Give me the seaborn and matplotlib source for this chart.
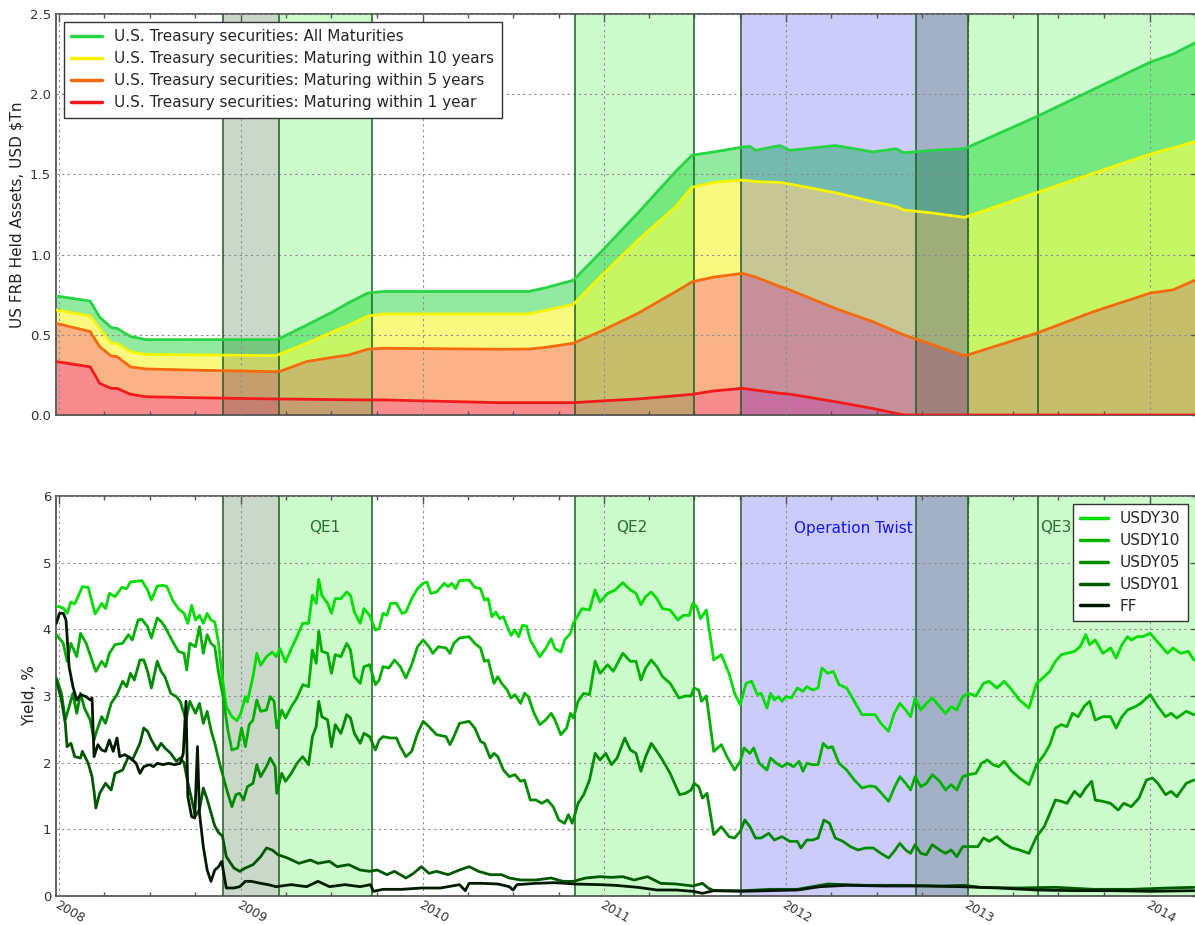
import numpy as np
import pandas as pd
import matplotlib
matplotlib.use("Agg")
import matplotlib.pyplot as plt
import matplotlib.dates as mdates
import seaborn as sns

# ---------------- data (decimal years, values) ----------------
TOP_YEARS = [2007.985, 2008.171, 2008.223, 2008.286, 2008.318, 2008.392, 2008.476, 2008.728,
             2009.192, 2009.213, 2009.360, 2009.507, 2009.592, 2009.697, 2009.781, 2010.413,
             2010.581, 2010.665, 2010.829, 2010.976, 2011.185, 2011.394, 2011.483, 2011.602,
             2011.759, 2011.801, 2011.832, 2011.968, 2012.020, 2012.270, 2012.480, 2012.604,
             2012.646, 2012.800, 2012.980, 2013.377, 2013.690, 2014.003, 2014.128, 2014.249]
ALL_MAT = [0.742, 0.71, 0.61, 0.545, 0.54, 0.49, 0.47, 0.47, 0.47, 0.478, 0.56, 0.645, 0.70, 0.76,
           0.77, 0.77, 0.77, 0.79, 0.84, 1.01, 1.26, 1.52, 1.62, 1.64, 1.67, 1.675, 1.65, 1.68,
           1.65, 1.68, 1.64, 1.66, 1.635, 1.65, 1.66, 1.86, 2.03, 2.20, 2.25, 2.32]
MAT_10Y = [0.655, 0.617, 0.54, 0.447, 0.447, 0.395, 0.378, 0.375, 0.37, 0.38, 0.447, 0.52, 0.56,
           0.617, 0.63, 0.63, 0.63, 0.65, 0.69, 0.86, 1.09, 1.30, 1.42, 1.45, 1.465, 1.46, 1.455,
           1.45, 1.44, 1.386, 1.33, 1.30, 1.278, 1.26, 1.232, 1.386, 1.507, 1.627, 1.665, 1.704]
MAT_5Y = [0.571, 0.52, 0.426, 0.368, 0.364, 0.30, 0.287, 0.28, 0.27, 0.272, 0.333, 0.36, 0.374,
          0.41, 0.416, 0.41, 0.411, 0.42, 0.447, 0.52, 0.634, 0.77, 0.83, 0.86, 0.883, 0.87, 0.86,
          0.80, 0.78, 0.665, 0.58, 0.52, 0.50, 0.44, 0.368, 0.51, 0.644, 0.76, 0.78, 0.84]
MAT_1Y = [0.333, 0.30, 0.197, 0.166, 0.166, 0.129, 0.114, 0.108, 0.10, 0.10, 0.098, 0.096, 0.095,
          0.094, 0.094, 0.077, 0.077, 0.077, 0.077, 0.087, 0.10, 0.12, 0.129, 0.15, 0.166, 0.16,
          0.155, 0.135, 0.13, 0.083, 0.04, 0.01, 0.0, 0.0, 0.0, 0.0, 0.0, 0.0, 0.0, 0.0]
TOP_NAMES = ["U.S. Treasury securities: All Maturities",
             "U.S. Treasury securities: Maturing within 10 years",
             "U.S. Treasury securities: Maturing within 5 years",
             "U.S. Treasury securities: Maturing within 1 year"]

USDY30 = [(2007.985,4.35),(2008.023,4.32),(2008.044,4.24),(2008.065,4.41),(2008.086,4.38),(2008.128,4.64),
 (2008.160,4.63),(2008.198,4.23),(2008.234,4.39),(2008.255,4.31),(2008.276,4.54),(2008.307,4.49),(2008.345,4.63),
 (2008.371,4.61),(2008.392,4.71),(2008.455,4.73),(2008.486,4.59),(2008.507,4.44),(2008.539,4.65),(2008.571,4.66),
 (2008.592,4.64),(2008.623,4.44),(2008.655,4.31),(2008.686,4.24),(2008.707,4.09),(2008.728,4.36),(2008.749,4.14),
 (2008.771,4.21),(2008.792,4.09),(2008.813,4.24),(2008.834,4.14),(2008.855,4.11),(2008.876,3.79),(2008.893,3.34),
 (2008.918,2.84),(2008.949,2.69),(2008.977,2.63),(2008.998,2.74),(2009.023,2.99),(2009.034,2.91),(2009.065,3.29),
 (2009.086,3.64),(2009.107,3.46),(2009.139,3.59),(2009.171,3.66),(2009.192,3.59),(2009.213,3.71),(2009.244,3.51),
 (2009.276,3.71),(2009.307,3.89),(2009.339,4.09),(2009.371,4.09),(2009.392,4.51),(2009.413,4.39),(2009.427,4.75),
 (2009.444,4.51),(2009.476,4.39),(2009.497,4.24),(2009.518,4.46),(2009.549,4.46),(2009.581,4.56),(2009.602,4.51),
 (2009.623,4.26),(2009.655,4.09),(2009.676,4.31),(2009.707,4.21),(2009.739,3.99),(2009.760,4.01),(2009.781,4.24),
 (2009.802,4.21),(2009.823,4.39),(2009.855,4.39),(2009.886,4.24),(2009.907,4.26),(2009.939,4.46),(2009.971,4.61),
 (2010.002,4.69),(2010.023,4.71),(2010.044,4.54),(2010.076,4.56),(2010.118,4.69),(2010.139,4.64),(2010.160,4.69),
 (2010.181,4.61),(2010.202,4.73),(2010.255,4.74),(2010.286,4.63),(2010.318,4.61),(2010.339,4.44),(2010.360,4.46),
 (2010.381,4.19),(2010.402,4.26),(2010.423,4.16),(2010.444,4.19),(2010.465,4.04),(2010.486,3.91),(2010.507,3.99),
 (2010.528,3.89),(2010.549,4.06),(2010.571,4.05),(2010.592,3.84),(2010.613,3.74),(2010.644,3.59),(2010.676,3.71),
 (2010.707,3.86),(2010.728,3.71),(2010.760,3.66),(2010.781,3.84),(2010.813,3.94),(2010.829,4.09),(2010.855,4.21),
 (2010.876,4.31),(2010.918,4.29),(2010.949,4.59),(2010.976,4.41),(2011.018,4.54),(2011.060,4.59),(2011.101,4.70),
 (2011.143,4.59),(2011.174,4.54),(2011.201,4.37),(2011.227,4.49),(2011.258,4.56),(2011.289,4.46),(2011.320,4.31),
 (2011.362,4.29),(2011.404,4.14),(2011.435,4.21),(2011.467,4.21),(2011.487,4.39),(2011.508,4.34),(2011.529,4.16),
 (2011.561,4.29),(2011.602,3.54),(2011.644,3.62),(2011.686,3.34),(2011.717,3.04),(2011.748,2.87),(2011.780,3.19),
 (2011.811,3.22),(2011.842,3.02),(2011.863,3.04),(2011.895,2.82),(2011.915,3.04),(2011.936,2.94),(2011.957,2.99),
 (2011.978,2.92),(2011.999,2.99),(2012.030,2.97),(2012.062,3.12),(2012.093,3.07),(2012.114,3.14),(2012.145,3.09),
 (2012.176,3.12),(2012.197,3.42),(2012.229,3.34),(2012.260,3.37),(2012.291,3.17),(2012.333,3.12),(2012.375,2.92),
 (2012.417,2.72),(2012.458,2.72),(2012.490,2.72),(2012.521,2.59),(2012.563,2.47),(2012.594,2.74),(2012.625,2.89),
 (2012.657,2.79),(2012.684,2.69),(2012.709,2.97),(2012.740,2.79),(2012.771,2.89),(2012.803,2.97),(2012.844,2.84),
 (2012.876,2.74),(2012.907,2.84),(2012.938,2.79),(2012.970,2.99),(2013.001,3.04),(2013.043,3.00),(2013.085,3.19),
 (2013.116,3.22),(2013.158,3.12),(2013.199,3.22),(2013.241,3.09),(2013.283,2.94),(2013.335,2.82),(2013.377,3.19),
 (2013.419,3.29),(2013.450,3.37),(2013.481,3.52),(2013.513,3.62),(2013.544,3.64),(2013.586,3.67),(2013.617,3.74),
 (2013.648,3.92),(2013.669,3.77),(2013.700,3.84),(2013.742,3.64),(2013.784,3.72),(2013.815,3.57),(2013.847,3.77),
 (2013.878,3.89),(2013.899,3.84),(2013.930,3.89),(2013.961,3.89),(2014.003,3.94),(2014.034,3.84),(2014.066,3.74),
 (2014.097,3.64),(2014.128,3.72),(2014.170,3.64),(2014.212,3.67),(2014.243,3.54)]

USDY10 = [(2007.985,3.92),(2008.023,3.79),(2008.044,3.52),(2008.065,3.79),(2008.097,3.59),(2008.118,3.94),
 (2008.149,3.79),(2008.192,3.44),(2008.202,3.37),(2008.234,3.52),(2008.255,3.44),(2008.276,3.64),(2008.307,3.77),
 (2008.349,3.79),(2008.381,3.92),(2008.402,3.84),(2008.434,4.14),(2008.455,4.15),(2008.486,4.04),(2008.507,3.87),
 (2008.539,4.17),(2008.560,4.12),(2008.581,4.04),(2008.623,3.82),(2008.655,3.67),(2008.686,3.64),(2008.701,3.39),
 (2008.718,3.79),(2008.749,3.74),(2008.771,4.04),(2008.792,3.64),(2008.813,3.92),(2008.834,3.79),(2008.855,3.74),
 (2008.876,3.34),(2008.897,3.04),(2008.928,2.47),(2008.949,2.19),(2008.981,2.22),(2009.002,2.52),(2009.023,2.24),
 (2009.044,2.57),(2009.065,2.64),(2009.086,2.94),(2009.107,2.77),(2009.139,2.79),(2009.160,2.99),(2009.181,2.92),
 (2009.196,2.52),(2009.223,2.79),(2009.244,2.67),(2009.276,2.84),(2009.307,2.97),(2009.339,3.17),(2009.371,3.14),
 (2009.392,3.69),(2009.413,3.49),(2009.427,3.97),(2009.444,3.67),(2009.476,3.64),(2009.497,3.34),(2009.518,3.62),
 (2009.549,3.59),(2009.581,3.79),(2009.602,3.69),(2009.623,3.29),(2009.655,3.19),(2009.676,3.44),(2009.707,3.47),
 (2009.739,3.17),(2009.760,3.24),(2009.781,3.44),(2009.813,3.42),(2009.844,3.54),(2009.876,3.44),(2009.907,3.27),
 (2009.939,3.47),(2009.971,3.74),(2010.002,3.84),(2010.034,3.74),(2010.055,3.64),(2010.086,3.74),(2010.128,3.72),
 (2010.149,3.64),(2010.171,3.79),(2010.202,3.87),(2010.255,3.89),(2010.286,3.79),(2010.318,3.72),(2010.339,3.52),
 (2010.360,3.54),(2010.392,3.19),(2010.413,3.29),(2010.434,3.19),(2010.465,3.09),(2010.486,2.97),(2010.507,3.02),
 (2010.539,2.89),(2010.560,3.04),(2010.581,2.99),(2010.613,2.74),(2010.644,2.57),(2010.676,2.64),(2010.707,2.74),
 (2010.728,2.64),(2010.760,2.42),(2010.792,2.52),(2010.813,2.74),(2010.829,2.67),(2010.855,2.92),(2010.886,3.04),
 (2010.918,3.02),(2010.949,3.52),(2010.976,3.34),(2011.018,3.47),(2011.049,3.37),(2011.101,3.64),(2011.143,3.52),
 (2011.174,3.52),(2011.201,3.24),(2011.227,3.42),(2011.258,3.54),(2011.289,3.44),(2011.320,3.29),(2011.362,3.19),
 (2011.410,2.97),(2011.446,3.00),(2011.477,3.00),(2011.494,3.12),(2011.519,3.09),(2011.535,2.92),(2011.561,3.00),
 (2011.602,2.17),(2011.644,2.27),(2011.675,2.09),(2011.717,1.89),(2011.748,2.02),(2011.769,2.22),(2011.801,2.14),
 (2011.822,2.22),(2011.853,1.99),(2011.895,1.89),(2011.915,2.07),(2011.947,1.99),(2011.978,1.94),(2012.009,1.99),
 (2012.041,1.94),(2012.072,2.02),(2012.093,1.87),(2012.114,1.99),(2012.145,1.97),(2012.176,1.97),(2012.204,2.29),
 (2012.229,2.22),(2012.254,2.24),(2012.291,1.99),(2012.333,1.89),(2012.375,1.74),(2012.417,1.62),(2012.458,1.65),
 (2012.490,1.64),(2012.531,1.52),(2012.563,1.42),(2012.594,1.62),(2012.625,1.79),(2012.657,1.69),(2012.684,1.59),
 (2012.709,1.79),(2012.740,1.64),(2012.771,1.69),(2012.803,1.82),(2012.844,1.72),(2012.876,1.59),(2012.907,1.67),
 (2012.938,1.59),(2012.970,1.79),(2013.001,1.82),(2013.043,1.84),(2013.074,1.99),(2013.105,2.04),(2013.137,1.97),
 (2013.168,1.94),(2013.199,2.02),(2013.241,1.87),(2013.283,1.77),(2013.335,1.67),(2013.377,1.97),(2013.419,2.12),
 (2013.450,2.27),(2013.481,2.52),(2013.513,2.57),(2013.544,2.54),(2013.575,2.74),(2013.606,2.69),(2013.638,2.84),
 (2013.669,2.92),(2013.700,2.64),(2013.742,2.69),(2013.784,2.69),(2013.815,2.52),(2013.847,2.69),(2013.878,2.79),
 (2013.920,2.84),(2013.951,2.89),(2014.003,3.02),(2014.045,2.84),(2014.087,2.69),(2014.118,2.74),(2014.149,2.67),
 (2014.201,2.77),(2014.243,2.72)]

USDY05 = [(2007.985,3.27),(2008.013,3.04),(2008.034,2.64),(2008.055,2.84),(2008.076,3.04),(2008.097,2.74),
 (2008.118,3.04),(2008.139,2.82),(2008.171,2.64),(2008.192,2.34),(2008.202,2.44),(2008.234,2.69),(2008.255,2.59),
 (2008.286,2.89),(2008.318,3.02),(2008.349,3.22),(2008.371,3.14),(2008.392,3.34),(2008.413,3.24),(2008.444,3.54),
 (2008.465,3.54),(2008.486,3.37),(2008.507,3.12),(2008.539,3.52),(2008.560,3.37),(2008.581,3.29),(2008.613,3.04),
 (2008.644,2.99),(2008.665,2.92),(2008.697,2.64),(2008.718,2.92),(2008.749,2.74),(2008.771,2.89),(2008.792,2.59),
 (2008.813,2.77),(2008.834,2.49),(2008.855,2.29),(2008.886,1.94),(2008.918,1.62),(2008.949,1.34),(2008.971,1.52),
 (2008.992,1.54),(2009.013,1.44),(2009.034,1.64),(2009.065,1.69),(2009.086,1.97),(2009.107,1.79),(2009.139,1.94),
 (2009.160,2.07),(2009.187,1.94),(2009.196,1.54),(2009.223,1.84),(2009.244,1.72),(2009.276,1.84),(2009.307,1.99),
 (2009.339,2.09),(2009.371,1.97),(2009.392,2.39),(2009.413,2.54),(2009.427,2.92),(2009.444,2.69),(2009.476,2.64),
 (2009.497,2.24),(2009.518,2.57),(2009.549,2.44),(2009.581,2.72),(2009.602,2.67),(2009.623,2.44),(2009.655,2.29),
 (2009.676,2.44),(2009.707,2.39),(2009.739,2.19),(2009.760,2.34),(2009.781,2.39),(2009.823,2.37),(2009.855,2.37),
 (2009.876,2.24),(2009.907,2.09),(2009.939,2.17),(2009.971,2.44),(2010.002,2.62),(2010.034,2.54),(2010.076,2.42),
 (2010.128,2.39),(2010.149,2.27),(2010.171,2.39),(2010.202,2.59),(2010.255,2.62),(2010.286,2.52),(2010.318,2.32),
 (2010.339,2.29),(2010.371,2.07),(2010.392,2.14),(2010.413,2.09),(2010.444,1.89),(2010.476,1.79),(2010.507,1.82),
 (2010.539,1.72),(2010.560,1.74),(2010.592,1.44),(2010.623,1.44),(2010.655,1.39),(2010.686,1.44),(2010.718,1.34),
 (2010.749,1.14),(2010.781,1.09),(2010.802,1.22),(2010.823,1.09),(2010.855,1.39),(2010.886,1.52),(2010.918,1.74),
 (2010.949,2.14),(2010.976,2.04),(2011.007,2.14),(2011.039,1.97),(2011.070,2.07),(2011.112,2.37),(2011.143,2.19),
 (2011.174,2.14),(2011.201,1.87),(2011.227,2.09),(2011.258,2.29),(2011.289,2.17),(2011.320,2.04),(2011.362,1.84),
 (2011.414,1.52),(2011.446,1.54),(2011.477,1.59),(2011.494,1.69),(2011.519,1.64),(2011.540,1.47),(2011.565,1.54),
 (2011.602,0.92),(2011.644,1.04),(2011.686,0.89),(2011.717,0.87),(2011.748,0.97),(2011.773,1.14),(2011.801,1.04),
 (2011.832,0.87),(2011.863,0.87),(2011.905,0.94),(2011.936,0.84),(2011.978,0.89),(2012.020,0.82),(2012.062,0.82),
 (2012.082,0.72),(2012.114,0.84),(2012.145,0.84),(2012.176,0.87),(2012.208,1.14),(2012.239,1.09),(2012.270,0.87),
 (2012.312,0.82),(2012.354,0.74),(2012.396,0.69),(2012.437,0.72),(2012.479,0.72),(2012.521,0.64),(2012.563,0.57),
 (2012.594,0.67),(2012.625,0.79),(2012.657,0.69),(2012.684,0.64),(2012.709,0.77),(2012.740,0.64),(2012.771,0.62),
 (2012.803,0.77),(2012.844,0.69),(2012.876,0.64),(2012.907,0.69),(2012.938,0.59),(2012.970,0.74),(2013.011,0.74),
 (2013.053,0.74),(2013.085,0.87),(2013.116,0.82),(2013.158,0.89),(2013.199,0.79),(2013.241,0.72),(2013.283,0.69),
 (2013.335,0.64),(2013.377,0.89),(2013.419,1.04),(2013.450,1.24),(2013.481,1.44),(2013.513,1.42),(2013.544,1.39),
 (2013.586,1.57),(2013.617,1.49),(2013.648,1.62),(2013.680,1.72),(2013.700,1.44),(2013.742,1.42),(2013.784,1.39),
 (2013.826,1.29),(2013.857,1.39),(2013.899,1.34),(2013.941,1.47),(2013.982,1.74),(2014.014,1.77),(2014.045,1.69),
 (2014.087,1.52),(2014.118,1.57),(2014.149,1.49),(2014.201,1.69),(2014.243,1.74)]

USDY01 = [(2007.985,3.24),(2008.013,2.94),(2008.034,2.59),(2008.044,2.24),(2008.065,2.29),(2008.086,2.09),
 (2008.118,2.07),(2008.128,2.17),(2008.160,1.99),(2008.181,1.79),(2008.192,1.57),(2008.202,1.32),(2008.223,1.54),
 (2008.255,1.69),(2008.286,1.59),(2008.307,1.84),(2008.349,1.89),(2008.381,2.09),(2008.402,2.04),(2008.444,2.29),
 (2008.465,2.52),(2008.486,2.47),(2008.507,2.34),(2008.539,2.19),(2008.560,2.29),(2008.581,2.22),(2008.613,2.14),
 (2008.644,2.02),(2008.665,2.07),(2008.686,2.00),(2008.707,1.70),(2008.728,1.45),(2008.749,1.20),(2008.771,1.30),
 (2008.792,1.62),(2008.813,1.45),(2008.834,1.25),(2008.855,1.05),(2008.876,0.95),(2008.897,0.90),(2008.918,0.59),
 (2008.960,0.42),(2008.992,0.37),(2009.023,0.42),(2009.065,0.47),(2009.107,0.59),(2009.139,0.72),(2009.171,0.69),
 (2009.202,0.62),(2009.255,0.57),(2009.318,0.49),(2009.381,0.54),(2009.423,0.49),(2009.486,0.52),(2009.528,0.44),
 (2009.592,0.47),(2009.655,0.39),(2009.707,0.37),(2009.749,0.39),(2009.802,0.32),(2009.844,0.37),(2009.907,0.27),
 (2009.949,0.34),(2009.992,0.44),(2010.034,0.34),(2010.076,0.37),(2010.139,0.32),(2010.202,0.39),(2010.255,0.44),
 (2010.307,0.37),(2010.371,0.32),(2010.434,0.32),(2010.476,0.27),(2010.539,0.24),(2010.623,0.24),(2010.707,0.27),
 (2010.771,0.22),(2010.829,0.22),(2010.897,0.27),(2010.976,0.29),(2011.039,0.28),(2011.101,0.29),(2011.164,0.24),
 (2011.237,0.29),(2011.310,0.19),(2011.394,0.18),(2011.487,0.15),(2011.540,0.19),(2011.571,0.12),(2011.602,0.08),
 (2011.769,0.08),(2011.915,0.10),(2012.062,0.10),(2012.145,0.14),(2012.229,0.18),(2012.437,0.16),(2012.646,0.16),
 (2012.855,0.15),(2012.980,0.16),(2013.064,0.13),(2013.272,0.12),(2013.481,0.13),(2013.690,0.10),(2013.899,0.10),
 (2014.108,0.12),(2014.243,0.13)]

FF = [(2007.985,4.09),(2008.002,4.24),(2008.023,4.24),(2008.038,4.14),(2008.055,3.44),(2008.076,3.14),
 (2008.097,2.94),(2008.118,3.02),(2008.149,2.99),(2008.171,2.94),(2008.181,2.97),(2008.192,2.09),(2008.213,2.27),
 (2008.234,2.19),(2008.255,2.17),(2008.276,2.34),(2008.297,2.17),(2008.318,2.37),(2008.333,2.09),(2008.360,2.12),
 (2008.392,2.07),(2008.423,1.99),(2008.444,1.84),(2008.465,1.94),(2008.497,1.97),(2008.518,1.94),(2008.539,1.99),
 (2008.571,1.97),(2008.602,1.99),(2008.634,1.97),(2008.665,1.99),(2008.682,2.14),(2008.697,2.92),(2008.707,1.49),
 (2008.728,1.19),(2008.745,1.17),(2008.760,2.24),(2008.771,1.24),(2008.792,0.74),(2008.813,0.39),(2008.834,0.22),
 (2008.855,0.39),(2008.876,0.44),(2008.893,0.52),(2008.918,0.12),(2008.960,0.12),(2008.992,0.14),(2009.023,0.22),
 (2009.055,0.22),(2009.107,0.19),(2009.149,0.17),(2009.192,0.14),(2009.276,0.17),(2009.360,0.14),(2009.423,0.22),
 (2009.486,0.14),(2009.571,0.17),(2009.655,0.14),(2009.712,0.17),(2009.728,0.07),(2009.781,0.10),(2009.886,0.10),
 (2009.992,0.12),(2010.097,0.12),(2010.202,0.17),(2010.234,0.08),(2010.255,0.19),(2010.328,0.19),(2010.413,0.18),
 (2010.476,0.14),(2010.497,0.09),(2010.518,0.17),(2010.623,0.19),(2010.728,0.20),(2010.834,0.18),(2010.976,0.17),
 (2011.060,0.16),(2011.185,0.13),(2011.289,0.09),(2011.394,0.09),(2011.487,0.07),(2011.540,0.04),(2011.602,0.08),
 (2011.748,0.07),(2011.915,0.08),(2012.062,0.09),(2012.187,0.14),(2012.333,0.16),(2012.542,0.15),(2012.751,0.15),
 (2012.959,0.14),(2013.168,0.12),(2013.377,0.09),(2013.586,0.08),(2013.794,0.08),(2014.003,0.07),(2014.243,0.08)]

YIELD_NAMES = ["USDY30", "USDY10", "USDY05", "USDY01", "FF"]

# policy events
DARK_SPANS = [("2008-11-25", "2009-03-18"), ("2012-09-18", "2012-12-31")]
GREEN_SPANS = [("2009-03-18", "2009-09-20"), ("2010-11-03", "2011-06-30"), ("2012-12-31", "2014-04-15")]
BLUE_SPANS = [("2011-10-03", "2012-12-31")]
EVENT_LINES = ["2008-11-25", "2009-03-18", "2009-09-20", "2010-11-03", "2011-06-30",
               "2011-10-03", "2012-09-18", "2012-12-31", "2013-05-22"]
LABELS = [("QE1", "2009-06-18", "#2b6e2b"), ("QE2", "2011-02-25", "#2b6e2b"),
          ("Operation Twist", "2012-05-15", "#1515ee"), ("QE3", "2013-06-26", "#2b6e2b")]


def to_dt(vals):
    out = []
    for v in vals:
        y = int(np.floor(v))
        s = pd.Timestamp(year=y, month=1, day=1)
        e = pd.Timestamp(year=y + 1, month=1, day=1)
        out.append(s + (v - y) * (e - s))
    return pd.to_datetime(out)


# ---------------- style ----------------
sns.set_style("white")
plt.rcParams["font.family"] = ["DejaVu Sans"]
plt.rcParams["axes.edgecolor"] = "#555555"

fig = plt.figure(figsize=(11.95, 9.25), dpi=100)
ax1 = fig.add_axes([56 / 1195, 1 - 415 / 925, 1.003 - 56 / 1195, 401 / 925])
ax2 = fig.add_axes([56 / 1195, 1 - 896 / 925, 1.003 - 56 / 1195, 400 / 925])

xmin = to_dt([2007.983])[0]
xmax = to_dt([2014.269])[0]

top_colors = ["#27d443", "#f5f500", "#f5690f", "#f21a1a"]
yield_colors = ["#00dd00", "#00b000", "#008a00", "#005800", "#001a00"]

# ---------------- top chart ----------------
tt = to_dt(TOP_YEARS)
series_top = [ALL_MAT, MAT_10Y, MAT_5Y, MAT_1Y]
lowers = [MAT_10Y, MAT_5Y, MAT_1Y, [0.0] * len(MAT_1Y)]
for up, lo, c in zip(series_top, lowers, top_colors):
    ax1.fill_between(tt, lo, up, color=c, alpha=0.5, lw=0, zorder=1)

df_top = pd.concat([pd.DataFrame({"date": tt, "value": s, "series": n})
                    for s, n in zip(series_top, TOP_NAMES)], ignore_index=True)
sns.lineplot(data=df_top, x="date", y="value", hue="series", hue_order=TOP_NAMES,
             palette=top_colors, estimator=None, lw=2, ax=ax1, zorder=4)

# ---------------- bottom chart ----------------
frames = []
for pts, n in zip([USDY30, USDY10, USDY05, USDY01, FF], YIELD_NAMES):
    t = [p[0] for p in pts]
    v = [p[1] for p in pts]
    frames.append(pd.DataFrame({"date": to_dt(t), "value": v, "series": n}))
df_y = pd.concat(frames, ignore_index=True)
sns.lineplot(data=df_y, x="date", y="value", hue="series", hue_order=YIELD_NAMES,
             palette=yield_colors, estimator=None, lw=2, ax=ax2, zorder=4)

# ---------------- shared decorations ----------------
for ax in (ax1, ax2):
    for a, b in GREEN_SPANS:
        ax.axvspan(pd.Timestamp(a), pd.Timestamp(b), color="#00ee00", alpha=0.2, lw=0, zorder=2)
    for a, b in BLUE_SPANS:
        ax.axvspan(pd.Timestamp(a), pd.Timestamp(b), color="#0000ee", alpha=0.2, lw=0, zorder=2)
    for a, b in DARK_SPANS:
        ax.axvspan(pd.Timestamp(a), pd.Timestamp(b), color="#1e5a1e", alpha=0.23, lw=0, zorder=2)
    for d in EVENT_LINES:
        ax.axvline(pd.Timestamp(d), color="#1d5e22", lw=1.1, zorder=3)
    ax.set_xlim(xmin, xmax)
    ax.set_axisbelow(False)
    ax.grid(True, which="major", ls=(0, (2, 3)), color="#8c8c8c", lw=0.8)
    ax.xaxis.set_major_locator(mdates.YearLocator())
    ax.xaxis.set_major_formatter(mdates.DateFormatter("%Y"))
    ax.xaxis.set_minor_locator(mdates.MonthLocator(bymonth=[4, 7, 10]))
    ax.tick_params(which="major", direction="in", top=True, right=True, length=6,
                   width=1, color="#555555", labelcolor="#333333", labelsize=9.5)
    ax.tick_params(which="minor", direction="in", top=True, bottom=True, length=3,
                   width=1, color="#555555")
    for sp in ax.spines.values():
        sp.set_color("#555555")
        sp.set_linewidth(1.3)
    ax.set_xlabel("")

ax1.set_ylim(0, 2.5)
ax1.set_yticks(np.arange(0, 2.51, 0.5))
ax1.set_yticklabels([f"{v:.1f}" for v in np.arange(0, 2.51, 0.5)])
ax1.tick_params(labelbottom=False)
ax1.set_ylabel("US FRB Held Assets, USD $Tn", fontsize=11, color="#222222")

ax2.set_ylim(0, 6)
ax2.set_yticks(range(0, 7))
ax2.set_ylabel("Yield, %", fontsize=11, color="#222222")
ax2.tick_params(axis="x", which="major", pad=1.5, labelsize=9)
for lab in ax2.get_xticklabels():
    lab.set_rotation(-30)
    lab.set_ha("left")
    lab.set_va("top")
    lab.set_rotation_mode("anchor")

for text, d, c in LABELS:
    ax2.text(pd.Timestamp(d), 5.52, text, ha="center", va="center", fontsize=11, color=c, zorder=5)

h1, l1 = ax1.get_legend_handles_labels()
leg1 = ax1.legend(h1, l1, loc="upper left", fontsize=11, frameon=True, fancybox=False,
                  framealpha=1, edgecolor="#333333", handlelength=2.0, borderpad=0.5,
                  labelspacing=0.45)
leg1.get_frame().set_linewidth(1.0)
h2, l2 = ax2.get_legend_handles_labels()
leg2 = ax2.legend(h2, l2, loc="upper right", fontsize=11, frameon=True, fancybox=False,
                  framealpha=1, edgecolor="#333333", handlelength=1.8, borderpad=0.5,
                  labelspacing=0.45, bbox_to_anchor=(0.9975, 1.0))
leg2.get_frame().set_linewidth(1.0)
for leg in (leg1, leg2):
    leg.set_zorder(10)
    for line in leg.get_lines():
        line.set_linewidth(2.5)

fig.savefig("out.png", dpi=100)
